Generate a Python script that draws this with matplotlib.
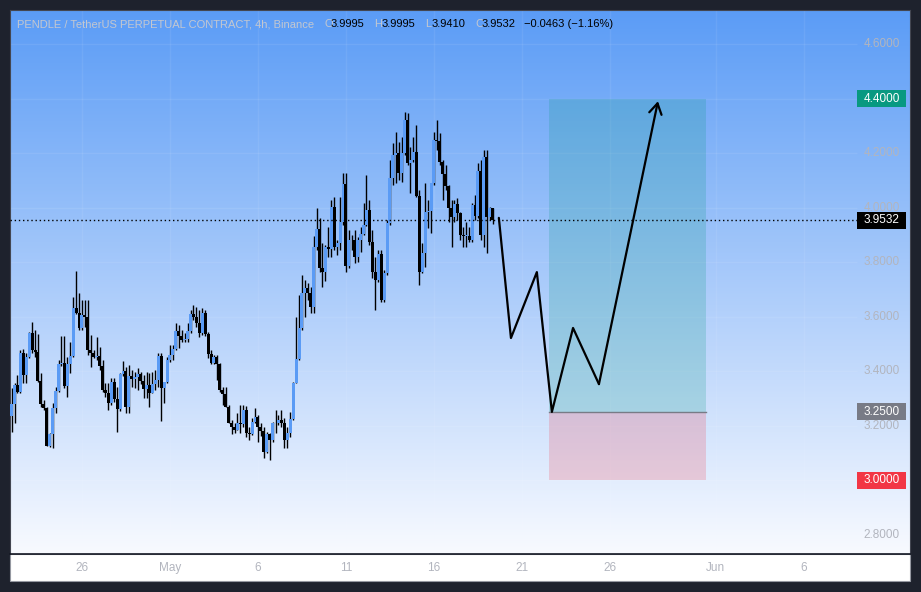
import numpy as np
import pandas as pd
import matplotlib
matplotlib.use("Agg")
import matplotlib.pyplot as plt
import matplotlib.dates as mdates
from matplotlib.patches import Rectangle
from matplotlib.colors import LinearSegmentedColormap
from matplotlib.transforms import blended_transform_factory

plt.rcParams['font.family'] = ['Liberation Sans', 'DejaVu Sans']

# 4h candles, PENDLE/USDT perp
times = pd.date_range('2024-04-22 00:00', periods=165, freq='4h')
first_open = 3.235
closes = np.array([
    3.279, 3.349, 3.323, 3.466, 3.385, 3.451, 3.539, 3.477, 3.470, 3.363,
    3.279, 3.264, 3.125, 3.169, 3.264, 3.327, 3.426, 3.429, 3.345, 3.426,
    3.455, 3.631, 3.613, 3.558, 3.606, 3.598, 3.477, 3.466, 3.451, 3.455,
    3.418, 3.330, 3.319, 3.283, 3.360, 3.297, 3.261, 3.389, 3.400, 3.268,
    3.382, 3.371, 3.378, 3.389, 3.363, 3.334, 3.349, 3.319, 3.352, 3.367,
    3.455, 3.338, 3.360, 3.440, 3.459, 3.481, 3.547, 3.528, 3.514, 3.517,
    3.547, 3.609, 3.598, 3.576, 3.539, 3.613, 3.536, 3.462, 3.429, 3.451,
    3.426, 3.330, 3.316, 3.268, 3.210, 3.195, 3.184, 3.210, 3.206, 3.257,
    3.173, 3.170, 3.213, 3.231, 3.195, 3.180, 3.103, 3.169, 3.147, 3.210,
    3.208, 3.220, 3.210, 3.147, 3.173, 3.224, 3.356, 3.444, 3.558, 3.686,
    3.705, 3.686, 3.635, 3.855, 3.921, 3.778, 3.763, 3.855, 3.848, 4.002,
    3.855, 3.870, 3.947, 4.086, 3.785, 3.881, 3.879, 3.818, 3.881, 3.903,
    3.936, 3.991, 3.873, 3.763, 3.734, 3.829, 3.661, 3.760, 3.943, 4.108,
    4.193, 4.200, 4.127, 4.200, 4.321, 4.163, 4.174, 4.204, 4.042, 3.763,
    3.833, 3.984, 3.987, 4.090, 4.248, 4.244, 4.167, 4.123, 4.079, 3.998,
    3.965, 4.013, 3.980, 3.899, 3.895, 3.897, 3.881, 4.009, 3.969, 4.134,
    3.899, 4.185, 3.965, 3.9995, 3.9532])
highs = np.array([
    3.338, 3.356, 3.385, 3.477, 3.481, 3.466, 3.543, 3.580, 3.551, 3.536,
    3.393, 3.294, 3.268, 3.173, 3.283, 3.341, 3.440, 3.528, 3.528, 3.451,
    3.506, 3.672, 3.767, 3.686, 3.661, 3.661, 3.661, 3.532, 3.477, 3.525,
    3.488, 3.440, 3.356, 3.356, 3.374, 3.374, 3.341, 3.393, 3.437, 3.415,
    3.422, 3.404, 3.396, 3.411, 3.396, 3.385, 3.396, 3.393, 3.396, 3.404,
    3.466, 3.466, 3.360, 3.451, 3.495, 3.495, 3.576, 3.569, 3.551, 3.539,
    3.576, 3.624, 3.642, 3.635, 3.624, 3.631, 3.624, 3.543, 3.477, 3.459,
    3.459, 3.429, 3.341, 3.341, 3.275, 3.220, 3.210, 3.246, 3.275, 3.275,
    3.272, 3.195, 3.228, 3.264, 3.239, 3.210, 3.195, 3.176, 3.173, 3.213,
    3.257, 3.239, 3.257, 3.228, 3.195, 3.250, 3.360, 3.598, 3.679, 3.752,
    3.734, 3.723, 3.708, 3.895, 3.998, 3.962, 3.870, 3.862, 3.928, 4.028,
    4.039, 3.881, 4.039, 4.127, 4.127, 3.917, 3.899, 3.917, 3.892, 3.928,
    4.017, 4.119, 4.028, 3.917, 3.818, 3.844, 3.844, 3.771, 3.954, 4.174,
    4.237, 4.277, 4.240, 4.259, 4.350, 4.347, 4.222, 4.259, 4.303, 4.064,
    3.870, 4.090, 4.028, 4.090, 4.277, 4.321, 4.273, 4.174, 4.156, 4.083,
    4.028, 4.028, 4.035, 3.984, 3.928, 3.947, 3.928, 4.017, 4.046, 4.163,
    4.174, 4.211, 4.211, 4.002, 3.9995])
lows = np.array([
    3.176, 3.210, 3.319, 3.319, 3.356, 3.356, 3.448, 3.466, 3.451, 3.360,
    3.268, 3.257, 3.125, 3.121, 3.117, 3.246, 3.323, 3.418, 3.338, 3.305,
    3.393, 3.451, 3.609, 3.551, 3.551, 3.562, 3.459, 3.415, 3.448, 3.440,
    3.404, 3.323, 3.305, 3.257, 3.275, 3.286, 3.176, 3.253, 3.382, 3.246,
    3.246, 3.341, 3.338, 3.330, 3.352, 3.301, 3.301, 3.268, 3.319, 3.330,
    3.341, 3.217, 3.283, 3.356, 3.433, 3.440, 3.477, 3.484, 3.506, 3.506,
    3.506, 3.539, 3.587, 3.562, 3.525, 3.532, 3.528, 3.448, 3.426, 3.426,
    3.367, 3.323, 3.275, 3.268, 3.210, 3.169, 3.173, 3.184, 3.173, 3.195,
    3.158, 3.147, 3.165, 3.210, 3.139, 3.162, 3.081, 3.099, 3.073, 3.139,
    3.173, 3.202, 3.195, 3.117, 3.117, 3.158, 3.220, 3.356, 3.440, 3.551,
    3.598, 3.661, 3.613, 3.613, 3.844, 3.763, 3.708, 3.730, 3.818, 3.818,
    3.844, 3.826, 3.844, 3.936, 3.763, 3.778, 3.844, 3.796, 3.800, 3.837,
    3.899, 3.932, 3.862, 3.741, 3.624, 3.727, 3.653, 3.653, 3.752, 3.936,
    4.083, 4.090, 4.101, 4.094, 4.193, 4.156, 4.053, 4.167, 4.039, 3.716,
    3.760, 3.782, 3.925, 3.906, 4.083, 4.211, 4.156, 4.028, 4.064, 3.947,
    3.855, 3.947, 3.954, 3.881, 3.855, 3.855, 3.873, 3.873, 3.954, 3.962,
    3.881, 3.855, 3.833, 3.954, 3.941])
opens = np.concatenate([[first_open], closes[:-1]])

# drawn projection path
path_times = ['2024-05-19 16:30', '2024-05-20 09:00', '2024-05-21 20:20',
              '2024-05-22 16:50', '2024-05-23 21:40', '2024-05-25 09:00',
              '2024-05-28 17:30']
path_prices = [3.962, 3.521, 3.763, 3.25, 3.558, 3.352, 4.39]

# long position tool
entry, target, stop = 3.25, 4.40, 3.00
box_start, box_end = '2024-05-22 12:40', '2024-05-31 10:50'
last_price = 3.9532

price_ticks = [2.8, 3.0, 3.2, 3.4, 3.6, 3.8, 4.0, 4.2, 4.4, 4.6]
date_ticks = ['2024-04-26', '2024-05-01', '2024-05-06', '2024-05-11', '2024-05-16',
              '2024-05-21', '2024-05-26', '2024-06-01', '2024-06-06']
date_labels = ['26', 'May', '6', '11', '16', '21', '26', 'Jun', '6']

W, H = 921, 592
fig = plt.figure(figsize=(W / 100, H / 100), dpi=100, facecolor='#1e222d')


def frame(x0, y0, x1, y1):
    return [x0 / W, 1 - y1 / H, (x1 - x0) / W, (y1 - y0) / H]


# white time scale strip (behind the axes so tick labels stay visible)
strip = Rectangle((10 / W, 1 - 581 / H), 900 / W, 27 / H, transform=fig.transFigure,
                  fc='white', ec='#9598a1', lw=0.8, zorder=-5)
fig.patches.append(strip)

ax = fig.add_axes(frame(10, 10, 910, 554))
base = mdates.date2num(pd.Timestamp('2024-04-26'))
x0, x1 = base - 4.09, base + 47.05
x_scale = x0 + (857 - 10) / 900 * (x1 - x0)

grad = LinearSegmentedColormap.from_list('bg', ['#5b9cf6', '#f8faff'])
ax.imshow(np.linspace(0, 1, 256).reshape(-1, 1), cmap=grad, extent=[0, 1, 0, 1],
          transform=ax.transAxes, aspect='auto', zorder=0)

# grid
for d in date_ticks:
    ax.axvline(mdates.date2num(pd.Timestamp(d)), color='white', alpha=0.07, lw=1, zorder=1)
ax.hlines(price_ticks, x0, x_scale, color='white', alpha=0.08, lw=1, zorder=1)

# candles
x = mdates.date2num(times)
hi = np.maximum(highs, np.maximum(opens, closes))
lo = np.minimum(lows, np.minimum(opens, closes))
up = closes >= opens
colors = np.where(up, '#5a9bf5', '#000000')
ax.vlines(x, lo, hi, color='black', lw=1.0, zorder=3)
body = np.maximum(np.abs(closes - opens), 0.003)
ax.bar(x, body, bottom=np.minimum(opens, closes), width=0.17, color=colors, lw=0, zorder=4)

# position tool
b0 = mdates.date2num(pd.Timestamp(box_start))
b1 = mdates.date2num(pd.Timestamp(box_end))
ax.add_patch(Rectangle((b0, entry), b1 - b0, target - entry, fc='#089981', alpha=0.2, lw=0, zorder=2))
ax.add_patch(Rectangle((b0, stop), b1 - b0, entry - stop, fc='#f23645', alpha=0.2, lw=0, zorder=2))
ax.plot([b0, b1], [entry, entry], color='#787b86', lw=1, zorder=2)

# current price dotted line
ax.plot([x0, x_scale], [last_price, last_price], color='black', lw=1, ls=(0, (1, 2)), zorder=5)

# projection path
px = mdates.date2num(pd.to_datetime(path_times))
ax.plot(px[:-1], path_prices[:-1], color='black', lw=1.6, zorder=6, solid_capstyle='round')
ax.annotate('', xy=(px[-1], path_prices[-1]), xytext=(px[-2], path_prices[-2]),
            arrowprops=dict(arrowstyle='->,head_length=0.75,head_width=0.45', color='black',
                            lw=1.6, shrinkA=0, shrinkB=0, mutation_scale=10), zorder=6)

ax.set_xlim(x0, x1)
ax.set_ylim(2.7285, 4.7248)

# price scale labels
tr = blended_transform_factory(ax.transAxes, ax.transData)
for p in price_ticks:
    ax.text(0.9889, p, f'{p:.4f}', transform=tr, ha='right', va='center',
            fontsize=8.5, color='#b2b5be', zorder=7)
for p, c in [(target, '#089981'), (last_price, '#000000'), (entry, '#787b86'), (stop, '#f23645')]:
    ax.add_patch(Rectangle((0.9411, p - 0.0312), 0.0544, 0.0624, transform=tr, fc=c, ec='none',
                           zorder=10, clip_on=False))
    ax.text(0.9683, p, f'{p:.4f}', transform=tr, ha='center', va='center', fontsize=8.5,
            color='white', zorder=11)

# legend line
ty = 0.974
title_parts = [(17, 'PENDLE / TetherUS PERPETUAL CONTRACT, 4h, Binance', '#c3c7d0'),
               (324, 'O', '#c3c7d0'), (331, '3.9995', 'black'),
               (374, 'H', '#c3c7d0'), (382, '3.9995', 'black'),
               (425, 'L', '#c3c7d0'), (432, '3.9410', 'black'),
               (475, 'C', '#c3c7d0'), (482, '3.9532', 'black'),
               (524, '\u22120.0463 (\u22121.16%)', 'black')]
for xp, s, c in title_parts:
    ax.text((xp - 10) / 900, ty, s, transform=ax.transAxes, ha='left', va='center',
            fontsize=8, color=c, zorder=12)

ax.set_xticks([mdates.date2num(pd.Timestamp(d)) for d in date_ticks])
ax.set_xticklabels(date_labels)
ax.set_yticks([])
ax.tick_params(axis='x', length=0, pad=6, labelsize=8.5, labelcolor='#b2b5be')
for s in ['top', 'left', 'right']:
    ax.spines[s].set_color('#434651')
    ax.spines[s].set_linewidth(0.8)
ax.spines['bottom'].set_color('#131722')
ax.spines['bottom'].set_linewidth(1.2)

fig.savefig('out.png', dpi=100, facecolor=fig.get_facecolor())
